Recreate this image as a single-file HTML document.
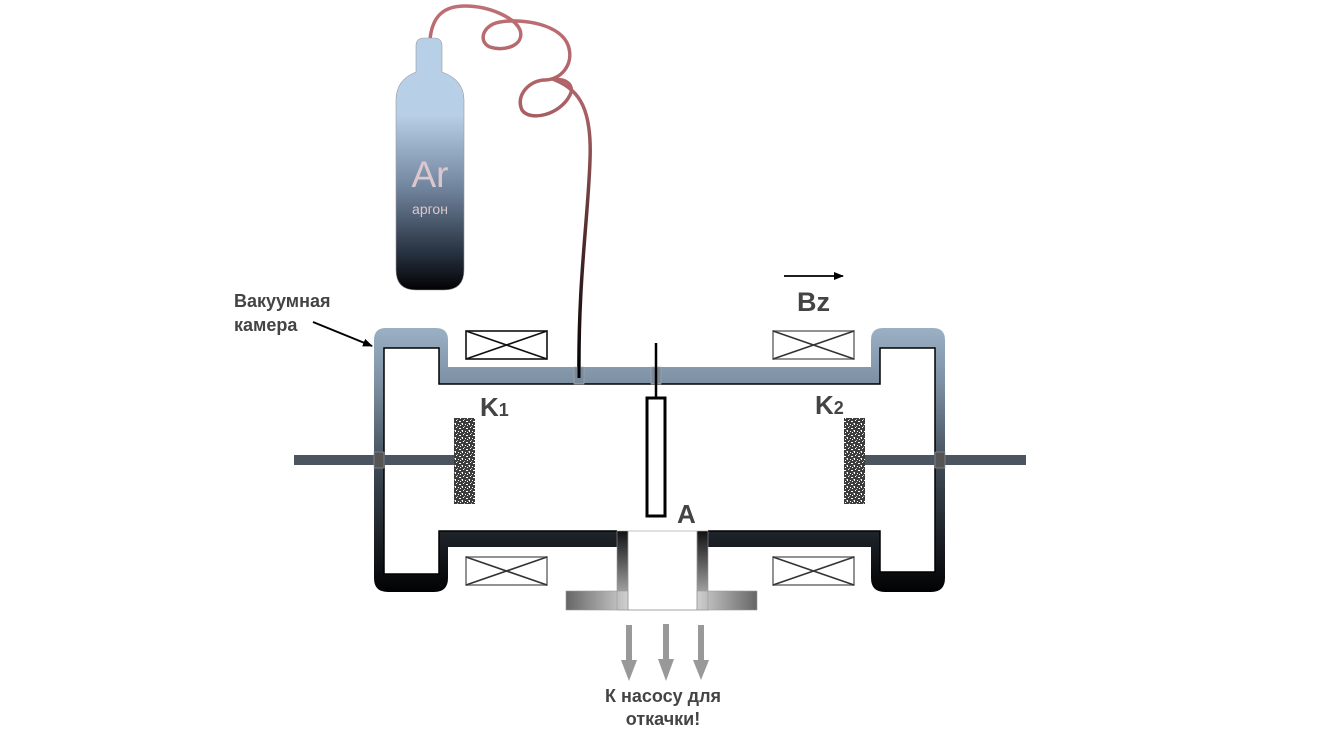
<!DOCTYPE html>
<html><head><meta charset="utf-8"><style>
html,body{margin:0;padding:0;background:#fff;width:1334px;height:743px;overflow:hidden}
svg{display:block}
text{font-family:"Liberation Sans","DejaVu Sans",sans-serif}
</style></head><body>
<svg width="1334" height="743" viewBox="0 0 1334 743" xmlns="http://www.w3.org/2000/svg">
<defs>
<linearGradient id="ch" x1="0" y1="328" x2="0" y2="592" gradientUnits="userSpaceOnUse">
<stop offset="0" stop-color="#9bb0c4"/><stop offset="0.2" stop-color="#7f92a5"/><stop offset="0.55" stop-color="#3b4651"/><stop offset="1" stop-color="#020203"/>
</linearGradient>
<linearGradient id="tank" x1="0" y1="40" x2="0" y2="290" gradientUnits="userSpaceOnUse">
<stop offset="0" stop-color="#b8cfe8"/><stop offset="0.3" stop-color="#b8cfe8"/><stop offset="0.6" stop-color="#6f829b"/><stop offset="0.85" stop-color="#283240"/><stop offset="1" stop-color="#020203"/>
</linearGradient>
<linearGradient id="hose" x1="0" y1="0" x2="0" y2="378" gradientUnits="userSpaceOnUse">
<stop offset="0" stop-color="#c07075"/><stop offset="0.3" stop-color="#a85f63"/><stop offset="0.65" stop-color="#4a2a2c"/><stop offset="1" stop-color="#000"/>
</linearGradient>
<linearGradient id="pw" x1="0" y1="531" x2="0" y2="610" gradientUnits="userSpaceOnUse">
<stop offset="0" stop-color="#111"/><stop offset="1" stop-color="#ccc"/>
</linearGradient>
<linearGradient id="pfl" x1="566" y1="0" x2="628" y2="0" gradientUnits="userSpaceOnUse">
<stop offset="0" stop-color="#666"/><stop offset="1" stop-color="#d0d0d0"/>
</linearGradient>
<linearGradient id="pfr" x1="757" y1="0" x2="697" y2="0" gradientUnits="userSpaceOnUse">
<stop offset="0" stop-color="#666"/><stop offset="1" stop-color="#d0d0d0"/>
</linearGradient>
<pattern id="nz" width="7" height="7" patternUnits="userSpaceOnUse">
<rect width="7" height="7" fill="#3c3c3c"/>
<rect x="1" y="0" width="1" height="1" fill="#fff"/><rect x="4" y="1" width="2" height="1" fill="#fff"/>
<rect x="0" y="3" width="1" height="2" fill="#fff"/><rect x="3" y="4" width="1" height="1" fill="#fff"/>
<rect x="5" y="5" width="1" height="1" fill="#fff"/><rect x="2" y="6" width="1" height="1" fill="#bbb"/>
<rect x="6" y="3" width="1" height="1" fill="#999"/>
</pattern>
<marker id="ah" markerWidth="10" markerHeight="8" refX="9" refY="4" orient="auto" markerUnits="userSpaceOnUse"><path d="M0,0 L10,4 L0,8 z" fill="#000"/></marker>
</defs>

<!-- hose -->
<path d="M430,40 C432,15 445,6 465,6 C490,6 515,18 520,30 C525,45 505,52 490,47 C478,42 482,25 500,22 C525,18 560,25 568,45 C575,65 560,80 545,80 C530,80 515,95 522,110 C530,122 560,115 570,95 C575,85 565,78 555,80 C580,90 592,110 590,160 C588,220 578,280 579,378" fill="none" stroke="url(#hose)" stroke-width="3.5" stroke-linecap="round"/>

<!-- tank -->
<path d="M416,68 L416,46 Q416,38 424,38 L434,38 Q442,38 442,46 L442,72 Q464,80 464,100 L464,270 Q464,290 444,290 L416,290 Q396,290 396,270 L396,100 Q396,80 416,72 Z" fill="url(#tank)" stroke="#999" stroke-width="0.6"/>
<text x="430" y="187" font-size="37" fill="#dcc8cc" text-anchor="middle">Ar</text>
<text x="430" y="214" font-size="14" fill="#dcc8cc" text-anchor="middle">аргон</text>

<!-- chamber -->
<path d="M374,340 Q374,328 386,328 L436,328 Q448,328 448,340 L448,367 L871,367 L871,340 Q871,328 883,328 L933,328 Q945,328 945,340 L945,578 Q945,592 931,592 L885,592 Q871,592 871,578 L871,547 L448,547 L448,578 Q448,592 434,592 L388,592 Q374,592 374,578 Z" fill="url(#ch)"/>
<path d="M384,348 L439,348 L439,384 L880,384 L880,348 L935,348 L935,572 L880,572 L880,531 L439,531 L439,574 L384,574 Z" fill="#fff" stroke="#000" stroke-width="1.5"/>

<!-- pump port -->
<rect x="617" y="529" width="91" height="20" fill="#fff"/>
<rect x="617" y="531" width="11" height="79" fill="url(#pw)"/>
<rect x="697" y="531" width="11" height="79" fill="url(#pw)"/>
<rect x="566" y="591" width="62" height="19" fill="url(#pfl)" stroke="#999" stroke-width="0.6"/>
<rect x="697" y="591" width="60" height="19" fill="url(#pfr)" stroke="#999" stroke-width="0.6"/>
<path d="M628,531 L628,610 L697,610 L697,531" fill="none" stroke="#999" stroke-width="0.8"/>
<rect x="617" y="531" width="91" height="79" fill="none" stroke="#999" stroke-width="0.6"/>

<!-- coils -->
<g fill="#fff" stroke-width="1.6">
<g stroke="#111"><rect x="466" y="331" width="81" height="28"/><path d="M466,331 L547,359 M466,359 L547,331"/></g>
<g stroke="#333"><rect x="466" y="557" width="81" height="28" stroke="#777"/><path d="M466,557 L547,585 M466,585 L547,557"/></g>
<g stroke="#333"><rect x="773" y="331" width="81" height="28" stroke="#777"/><path d="M773,331 L854,359 M773,359 L854,331"/></g>
<g stroke="#333"><rect x="773" y="557" width="81" height="28" stroke="#777"/><path d="M773,557 L854,585 M773,585 L854,557"/></g>
</g>

<!-- rods -->
<rect x="294" y="455" width="160" height="10" fill="#4a5560"/>
<rect x="864" y="455" width="162" height="10" fill="#4a5560"/>
<rect x="374" y="452" width="10" height="16" fill="#555" stroke="#999" stroke-width="0.6"/>
<rect x="935" y="452" width="10" height="16" fill="#555" stroke="#999" stroke-width="0.6"/>

<!-- cathodes -->
<rect x="454" y="418" width="21" height="86" fill="url(#nz)"/>
<rect x="844" y="418" width="21" height="86" fill="url(#nz)"/>

<!-- feedthroughs -->
<rect x="574" y="367" width="10" height="17" fill="#7a8a9a" stroke="#aaa" stroke-width="0.6"/>
<rect x="651" y="367" width="10" height="17" fill="#7a8a9a" stroke="#aaa" stroke-width="0.6"/>
<line x1="579" y1="360" x2="579" y2="378" stroke="#000" stroke-width="3"/>

<!-- anode -->
<line x1="656" y1="343" x2="656" y2="398" stroke="#000" stroke-width="2.5"/>
<rect x="647" y="398" width="18" height="118" fill="#fff" stroke="#000" stroke-width="3"/>

<!-- labels -->
<g font-weight="bold" fill="#444">
<text x="234" y="307" font-size="18">Вакуумная</text>
<text x="234" y="331" font-size="18">камера</text>
<text x="480" y="416" font-size="26">K<tspan font-size="18">1</tspan></text>
<text x="815" y="414" font-size="26">K<tspan font-size="18">2</tspan></text>
<text x="677" y="523" font-size="26">A</text>
<text x="797" y="311" font-size="27">Bz</text>
<text x="663" y="702" font-size="18" text-anchor="middle">К насосу для</text>
<text x="663" y="725" font-size="18" text-anchor="middle">откачки!</text>
</g>
<line x1="313" y1="322" x2="372" y2="346" stroke="#000" stroke-width="2" marker-end="url(#ah)"/>
<line x1="784" y1="276" x2="843" y2="276" stroke="#000" stroke-width="1.8" marker-end="url(#ah)"/>

<!-- pump arrows -->
<g fill="#999">
<rect x="626" y="625" width="6" height="38"/><path d="M621,660 L637,660 L629,681 Z"/>
<rect x="663" y="624" width="6" height="38"/><path d="M658,659 L674,659 L666,681 Z"/>
<rect x="698" y="625" width="6" height="38"/><path d="M693,660 L709,660 L701,680 Z"/>
</g>
</svg>
</body></html>
